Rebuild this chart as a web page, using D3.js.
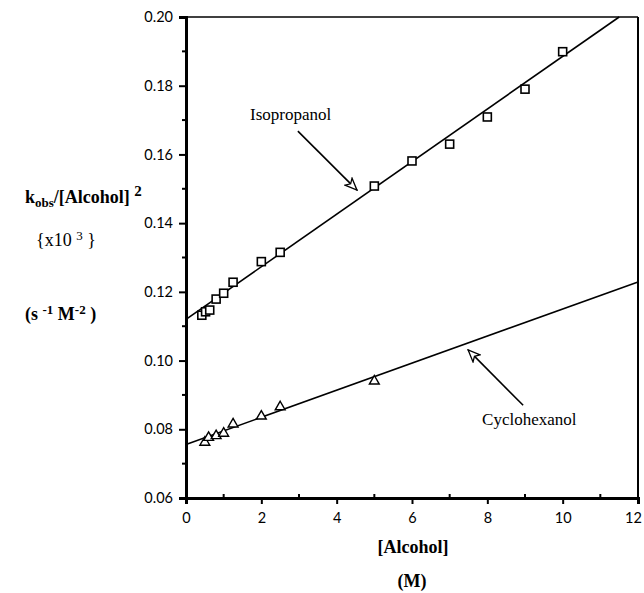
<html>
	<head>
		<style>
			body {
			  margin: 0;
			  background: #fff;
			}
			.tick text {
			  font-family: Lato, "Open Sans", sans-serif;
			  font-size: 14.5px;
			}
			.lbl {
			  font-family: "Liberation Serif", "DejaVu Serif", serif;
			  font-weight: bold;
			  font-size: 18px;
			}
			.note {
			  font-family: "Liberation Serif", "DejaVu Serif", serif;
			  font-size: 17px;
			}
		</style>
		<script src="https://cdn.jsdelivr.net/npm/d3@7"></script>
	</head>
	<body>
		<svg id="chart"></svg>
		<script>
			var width = 644;
			var height = 593;

			// data
			var isoX = [0.42, 0.52, 0.63, 0.8, 1.0, 1.25, 2, 2.5, 5, 6, 7, 8, 9, 10];
			var isoY = [0.1132, 0.1142, 0.1147, 0.1179, 0.1196, 0.1228, 0.1288, 0.1315, 0.1508, 0.1581, 0.1630, 0.1709, 0.1790, 0.1899];
			var cyX = [0.5, 0.6, 0.8, 1.0, 1.25, 2, 2.5, 5];
			var cyY = [0.0762, 0.0776, 0.0781, 0.0788, 0.0815, 0.0838, 0.0865, 0.0940];
			// fitted lines (end points)
			var isoFitX = [0, 11.5];
			var isoFitY = [0.112, 0.20];
			var cyFitX = [0, 12];
			var cyFitY = [0.0756, 0.1229];
			var xTicks = [0, 2, 4, 6, 8, 10, 12];
			var yTicks = [0.06, 0.08, 0.10, 0.12, 0.14, 0.16, 0.18, 0.20];
			var xMinor = [1, 3, 5, 7, 9, 11];
			var yMinor = [0.07, 0.09, 0.11, 0.13, 0.15, 0.17, 0.19];

			var svg = d3.select("#chart")
				.attr("width", width)
				.attr("height", height);

			var x = d3.scaleLinear().domain([0, 12]).range([186, 638]);
			var y = d3.scaleLinear().domain([0.06, 0.20]).range([498, 17]);

			// frame: top and right thin, left and bottom heavy
			svg.append("line")
				.attr("x1", x(0)).attr("x2", x(12)).attr("y1", y(0.20)).attr("y2", y(0.20))
				.attr("stroke", "#000").attr("stroke-width", 1.5);
			svg.append("line")
				.attr("x1", x(12)).attr("x2", x(12)).attr("y1", y(0.20)).attr("y2", y(0.06))
				.attr("stroke", "#000").attr("stroke-width", 2);

			var yAxis = svg.append("g")
				.attr("transform", "translate(" + x(0) + ",0)")
				.call(d3.axisLeft(y).tickValues(yTicks).tickFormat(d3.format(".2f")).tickSize(7).tickPadding(6));
			yAxis.select(".domain").attr("stroke-width", 3);
			yAxis.selectAll(".tick line").attr("stroke-width", 2);

			var xAxis = svg.append("g")
				.attr("transform", "translate(0," + y(0.06) + ")")
				.call(d3.axisBottom(x).tickValues(xTicks).tickFormat(d3.format("d")).tickSize(6).tickPadding(9));
			xAxis.select(".domain").attr("stroke-width", 3);
			xAxis.selectAll(".tick line").attr("stroke-width", 2);
			// last label sits against the page edge
			xAxis.selectAll(".tick text").filter(function(d) { return d === 12; }).attr("dx", -5);

			// minor ticks
			svg.append("g").selectAll("line")
				.data(yMinor)
				.join("line")
				.attr("x1", x(0) - 4).attr("x2", x(0))
				.attr("y1", function(d) { return y(d); }).attr("y2", function(d) { return y(d); })
				.attr("stroke", "#000").attr("stroke-width", 2);
			svg.append("g").selectAll("line")
				.data(xMinor)
				.join("line")
				.attr("x1", function(d) { return x(d); }).attr("x2", function(d) { return x(d); })
				.attr("y1", y(0.06)).attr("y2", y(0.06) - 4)
				.attr("stroke", "#000").attr("stroke-width", 2);

			// fitted lines
			var line = d3.line()
				.x(function(d) { return x(d[0]); })
				.y(function(d) { return y(d[1]); });
			svg.append("path")
				.attr("d", line(d3.zip(isoFitX, isoFitY)))
				.attr("fill", "none").attr("stroke", "#000").attr("stroke-width", 1.6);
			svg.append("path")
				.attr("d", line(d3.zip(cyFitX, cyFitY)))
				.attr("fill", "none").attr("stroke", "#000").attr("stroke-width", 1.6);

			// points
			svg.append("g").selectAll("rect")
				.data(d3.zip(isoX, isoY))
				.join("rect")
				.attr("x", function(d) { return x(d[0]) - 4; })
				.attr("y", function(d) { return y(d[1]) - 4; })
				.attr("width", 8).attr("height", 8)
				.attr("fill", "#fff").attr("stroke", "#000").attr("stroke-width", 1.6);

			var tri = d3.symbol().type(d3.symbolTriangle).size(42);
			svg.append("g").selectAll("path")
				.data(d3.zip(cyX, cyY))
				.join("path")
				.attr("transform", function(d) { return "translate(" + x(d[0]) + "," + y(d[1]) + ")"; })
				.attr("d", tri)
				.attr("fill", "#fff").attr("stroke", "#000").attr("stroke-width", 1.4);

			// arrows
			svg.append("defs").append("marker")
				.attr("id", "head")
				.attr("viewBox", "0 -6 14 12")
				.attr("refX", 13).attr("refY", 0)
				.attr("markerWidth", 14).attr("markerHeight", 12)
				.attr("markerUnits", "userSpaceOnUse")
				.attr("orient", "auto")
				.append("path")
				.attr("d", "M1,-5L13,0L1,5L4,0Z")
				.attr("fill", "#fff").attr("stroke", "#000").attr("stroke-width", 1.3);

			var notes = [
				{text: "Isopropanol", tx: 1.70, ty: 0.1700, from: [2.97, 0.1668], to: [4.54, 0.1496]},
				{text: "Cyclohexanol", tx: 7.86, ty: 0.0812, from: [8.95, 0.0870], to: [7.49, 0.1031]}
			];
			notes.forEach(function(n) {
				svg.append("line")
					.attr("x1", x(n.from[0])).attr("y1", y(n.from[1]))
					.attr("x2", x(n.to[0])).attr("y2", y(n.to[1]))
					.attr("stroke", "#000").attr("stroke-width", 1.6)
					.attr("marker-end", "url(#head)");
				svg.append("text")
					.attr("class", "note")
					.attr("x", x(n.tx)).attr("y", y(n.ty))
					.text(n.text);
			});

			// y label
			var yl = svg.append("text").attr("class", "lbl").attr("x", 25).attr("y", 203);
			yl.append("tspan").text("k");
			yl.append("tspan").attr("font-size", 13).attr("dy", 4).text("obs");
			yl.append("tspan").attr("dy", -4).text("/[Alcohol] ");
			yl.append("tspan").attr("font-size", 15).attr("dy", -7).text("2");

			var y2 = svg.append("text").attr("class", "lbl").attr("x", 36).attr("y", 246);
			y2.append("tspan").attr("font-weight", "normal").text("{x10 ");
			y2.append("tspan").attr("font-weight", "normal").attr("font-size", 13).attr("dy", -6).text("3");
			y2.append("tspan").attr("font-weight", "normal").attr("dy", 6).text(" }");

			var y3 = svg.append("text").attr("class", "lbl").attr("x", 25).attr("y", 320);
			y3.append("tspan").text("(s ");
			y3.append("tspan").attr("font-size", 13).attr("dy", -6).text("-1");
			y3.append("tspan").attr("dy", 6).text(" M");
			y3.append("tspan").attr("font-size", 13).attr("dy", -6).text("-2");
			y3.append("tspan").attr("dy", 6).text(" )");

			// x label
			svg.append("text").attr("class", "lbl")
				.attr("x", 413).attr("y", 553)
				.attr("text-anchor", "middle")
				.text("[Alcohol]");
			svg.append("text").attr("class", "lbl")
				.attr("x", 412).attr("y", 587)
				.attr("text-anchor", "middle")
				.text("(M)");
		</script>
	</body>
</html>
